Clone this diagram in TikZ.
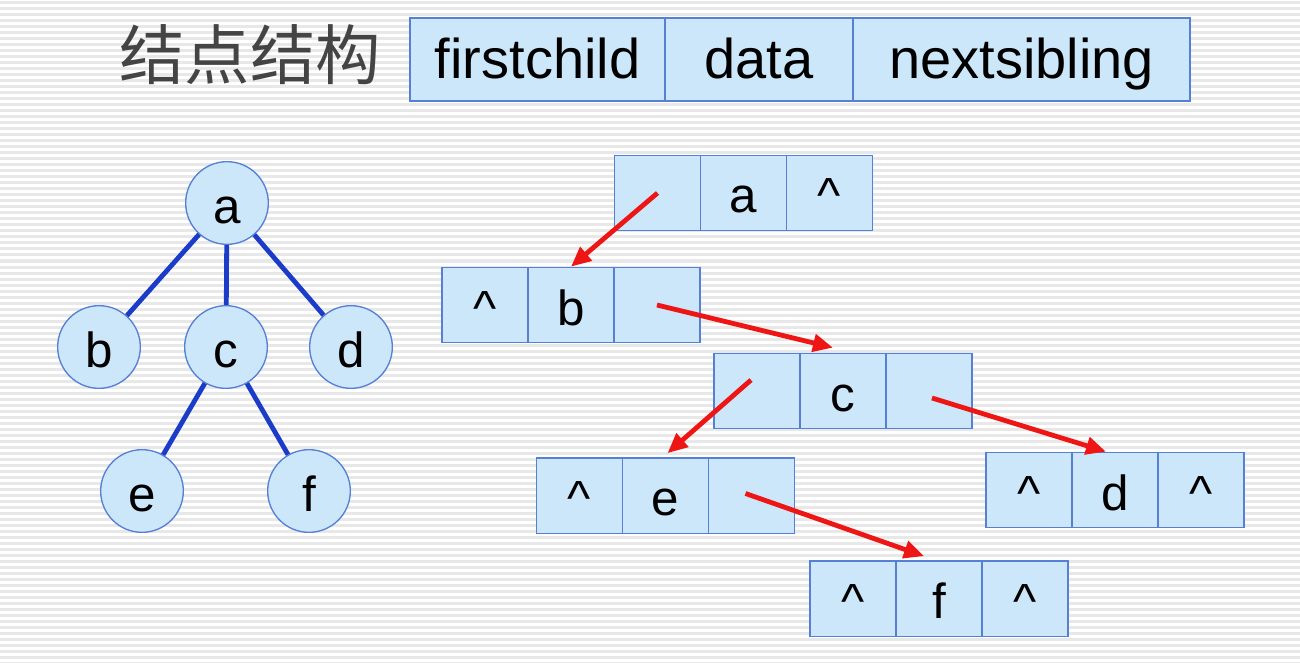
\documentclass[tikz,border=0pt]{standalone}
\usepackage{fontspec}
\setmainfont{Liberation Sans}
\newfontfamily\cjk{Noto Sans CJK SC}
\usetikzlibrary{arrows.meta,calc}
\definecolor{cellfill}{HTML}{CCE7FA}
\definecolor{cellline}{HTML}{5580D6}
\definecolor{edgeblue}{HTML}{1A3CC8}
\definecolor{arrowred}{HTML}{EE1515}
\definecolor{stripe}{HTML}{E8E8E8}
\definecolor{titlegray}{HTML}{444444}
\newcommand\listrow[6]{%
  \node[cell] (#1l) at ({#2-86},#3) {#4};
  \node[cell] (#1m) at (#2,#3) {#5};
  \node[cell] (#1r) at ({#2+86},#3) {#6};}
\begin{document}
\begin{tikzpicture}[x=0.75pt,y=-0.75pt,
  cell/.style={draw=cellline, fill=cellfill, line width=1pt, minimum width=64.5pt,
    minimum height=56.5pt, inner sep=0pt, text height=30pt, text depth=0pt,
    font=\fontsize{37}{37}\selectfont},
  headcell/.style={draw=cellline, fill=cellfill, line width=1pt, minimum height=62.25pt,
    inner sep=0pt, text height=27.8pt, text depth=0pt, font=\fontsize{42}{42}\selectfont},
  treenode/.style={circle, draw=cellline, fill=cellfill, line width=1pt, minimum size=62pt,
    inner sep=0pt, text height=31pt, text depth=0pt, font=\fontsize{37}{37}\selectfont},
  edge/.style={draw=edgeblue, line width=3.6pt},
  redarrow/.style={draw=arrowred, line width=3.6pt, -{Triangle[length=15pt,width=13pt]}}
]
\useasboundingbox (0,0) rectangle (1300,663);
\fill[white] (0,0) rectangle (1300,663);
\foreach \i in {0,...,110} \draw[stripe, line width=2.25pt] (0,{\i*6+3}) -- (1300,{\i*6+3});

% title
\node[text=titlegray, font=\cjk\fontsize{49}{49}\selectfont, inner sep=0pt] (title) at (250,55) {结点结构};
\node[headcell, minimum width=191.25pt] (hfc) at (537.5,59.5) {firstchild};
\node[headcell, minimum width=141pt] (hdata) at (759,59.5) {data};
\node[headcell, minimum width=252.75pt] (hns) at (1021.5,59.5) {nextsibling};

% tree
\node[treenode] (ta) at (227,203) {a};
\node[treenode] (tb) at (99,347) {b};
\node[treenode] (tc) at (226,347) {c};
\node[treenode] (td) at (351,347) {d};
\node[treenode] (te) at (142,491) {e};
\node[treenode] (tf) at (309,491) {f};
\draw[edge] (ta) -- (tb);
\draw[edge] (ta) -- (tc);
\draw[edge] (ta) -- (td);
\draw[edge] (tc) -- (te);
\draw[edge] (tc) -- (tf);

% child-sibling list
\listrow{a}{743.5}{193}{}{a}{\textasciicircum}
\listrow{b}{571}{305}{\textasciicircum}{b}{}
\listrow{c}{843}{391}{}{c}{}
\listrow{e}{665.5}{495.5}{\textasciicircum}{e}{}
\listrow{d}{1115}{490}{\textasciicircum}{d}{\textasciicircum}
\listrow{f}{939}{598.5}{\textasciicircum}{f}{\textasciicircum}

\draw[redarrow] (al.center) -- (bm.north);
\draw[redarrow] (br.center) -- ($(cm.north)+(-10,-5)$);
\draw[redarrow] ($(cl.center)+(-6,-11)$) -- ($(em.north)+(2,-4)$);
\draw[redarrow] ($(cr.center)+(3,7)$) -- ($(dm.north)+(-9,0)$);
\draw[redarrow] ($(er.center)+(-6,-2)$) -- ($(fm.north)+(-15,-4)$);
\end{tikzpicture}
\end{document}
